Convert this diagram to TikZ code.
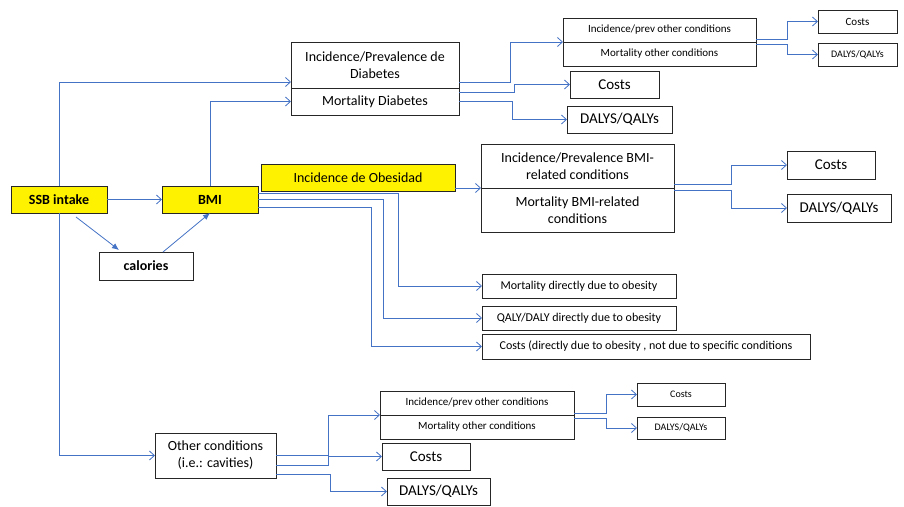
\documentclass[tikz,border=0pt]{standalone}
\usepackage{fontspec}
\setmainfont{Carlito}
\usetikzlibrary{arrows.meta,calc,positioning}
\definecolor{linkblue}{RGB}{68,114,196}

\begin{document}
\begin{tikzpicture}[x=1pt,y=-1pt,
  block/.style={draw=black!85,line width=0.9pt,rectangle,inner sep=0pt,outer sep=0pt,
    align=center,node distance=0pt,font=\fontsize{14}{17}\selectfont},
  hl/.style={block,fill=yellow},
  small/.style={block,font=\fontsize{11}{13}\selectfont},
  tiny/.style={block,font=\fontsize{10}{12}\selectfont},
  link/.style={draw=linkblue,line width=0.8pt,-{Straight Barb[length=5pt,width=9pt]}},
  push/.style={draw=linkblue,line width=0.8pt,-{Latex[length=7pt,width=6pt]}}]

        \useasboundingbox (0,0) rectangle (904,506);

        \node (A) [hl,minimum width=96,minimum height=27] at (59,199.5) {\bfseries SSB intake};
        \node (B) [hl,minimum width=96,minimum height=27] at (210,199.5) {\bfseries BMI};
        \node (C) [block,minimum width=94,minimum height=28] at (146,266) {\bfseries calories};
        \node (D) [hl,minimum width=194,minimum height=27] at (358,177.5) {Incidence de Obesidad};

        \node (E) [block,minimum width=168,minimum height=46] at (375,65) {Incidence/Prevalence de\\Diabetes};
        \node (F) [block,minimum width=168,minimum height=27,below = of E] {Mortality Diabetes};
        \node (G) [small,minimum width=193,minimum height=24] at (659.5,30) {Incidence/prev other conditions};
        \node (H) [small,minimum width=193,minimum height=24,below = of G] {Mortality other conditions};
        \node (I) [small,minimum width=79,minimum height=23] at (857.5,21.5) {Costs};
        \node (J) [tiny,minimum width=79,minimum height=23] at (857.5,54.5) {DALYS/QALYs};
        \node (K) [block,minimum width=89,minimum height=27,font=\fontsize{15}{18}\selectfont] at (614.5,84.5) {Costs};
        \node (L) [block,minimum width=105,minimum height=27,font=\fontsize{15}{18}\selectfont] at (619.5,119.5) {DALYS/QALYs};

        \node (M) [block,minimum width=193,minimum height=44] at (577.5,166) {Incidence/Prevalence BMI-\\related conditions};
        \node (N) [block,minimum width=193,minimum height=44,below = of M] {Mortality BMI-related\\conditions};
        \node (O) [block,minimum width=88,minimum height=28,font=\fontsize{15}{18}\selectfont] at (831,165) {Costs};
        \node (P) [block,minimum width=104,minimum height=28,font=\fontsize{15}{18}\selectfont] at (839,208) {DALYS/QALYs};

        \node (Q) [small,minimum width=194,minimum height=24,font=\fontsize{12}{14}\selectfont] at (579,286) {Mortality directly due to obesity};
        \node (R) [small,minimum width=194,minimum height=24,font=\fontsize{12}{14}\selectfont] at (579,318) {QALY/DALY directly due to obesity};
        \node (S) [small,minimum width=328,minimum height=25,font=\fontsize{12}{14}\selectfont] at (646,346.5) {Costs (directly due to obesity , not due to specific conditions};

        \node (T) [block,minimum width=121,minimum height=45] at (215.5,455.5) {Other conditions\\(i.e.: cavities)};
        \node (U) [small,minimum width=194,minimum height=24] at (477,403) {Incidence/prev other conditions};
        \node (V) [small,minimum width=194,minimum height=24,below = of U] {Mortality other conditions};
        \node (W) [tiny,minimum width=88,minimum height=23] at (681,394.5) {Costs};
        \node (X) [tiny,minimum width=88,minimum height=22] at (681,428) {DALYS/QALYs};
        \node (Y) [block,minimum width=88,minimum height=27,font=\fontsize{15}{18}\selectfont] at (426,456.5) {Costs};
        \node (Z) [block,minimum width=103,minimum height=27,font=\fontsize{15}{18}\selectfont] at (438.5,491.5) {DALYS/QALYs};

        \draw[link] (A.north) |- ([yshift=6pt]E.south west);
        \draw[link] (B.north) |- (F.west);
        \draw[link] (A.east) -- (B.west);
        \draw[push] ([xshift=17pt,yshift=-4pt]A.south) -- ([xshift=-27pt,yshift=2pt]C.north);
        \draw[push] ([xshift=17pt]C.north) -- (B.south);
        \draw[link] (A.south) |- (T.west);

        \draw[link] (D.east |- M.south west) -- (M.south west);
        \draw[link] ([yshift=6.5pt]B.east) -| ([xshift=-84pt]Q.west) -- (Q.west);
        \draw[link] (B.east) -| ([xshift=-99pt]R.west) -- (R.west);
        \draw[link] ([yshift=-7.5pt]B.east) -| ([xshift=-111pt]S.west) -- (S.west);

        \draw[link] ([yshift=6pt]E.south east) -- ++(51,0) |- (G.south west);
        \draw[link] ([yshift=-4pt]F.north east) -- ++(55,0) |- (K.west);
        \draw[link] (F.east) -- ++(53,0) |- (L.west);
        \draw[link] ([yshift=3pt]G.south east) -- ++(31,0) |- (I.west);
        \draw[link] ([yshift=-2pt]H.north east) -- ++(31,0) |- (J.west);

        \draw[link] ([yshift=4pt]M.south east) -- ++(57,0) |- (O.west);
        \draw[link] ([yshift=-2pt]N.north east) -- ++(57,0) |- (P.west);

        \draw[link] (T.east) -- ++(52,0) |- (U.south west);
        \draw[link] ([yshift=-9.5pt]T.east) -- ++(52,0) |- (Y.west);
        \draw[link] ([yshift=-18.5pt]T.east) -- ++(54,0) |- (Z.west);
        \draw[link] ([yshift=2pt]U.south east) -- ++(32,0) |- (W.west);
        \draw[link] ([yshift=-3pt]V.north east) -- ++(32,0) |- (X.west);
      \end{tikzpicture}
\end{document}
